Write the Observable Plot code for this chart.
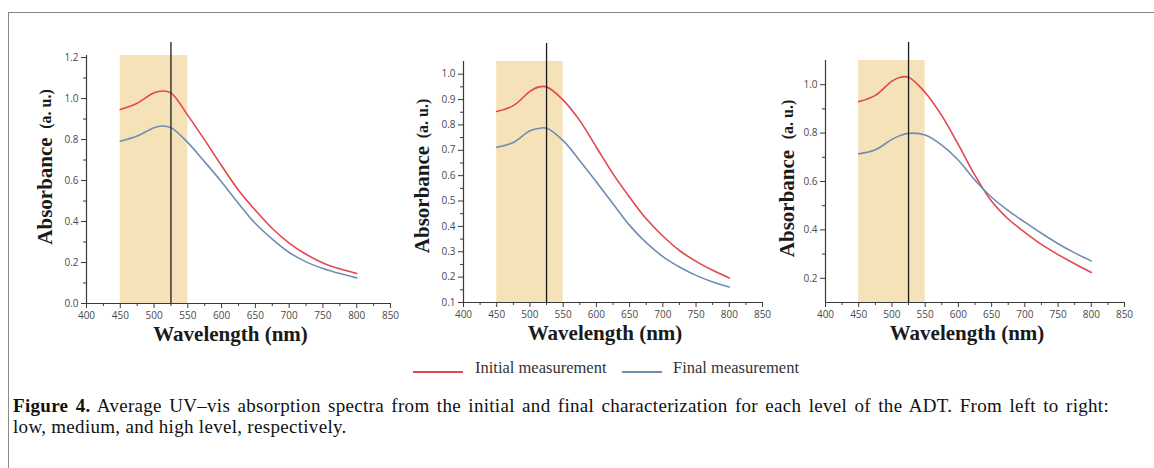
<!DOCTYPE html>
<html>
<head>
<meta charset="utf-8">
<script src="https://cdn.jsdelivr.net/npm/d3@7"></script>
<script src="https://cdn.jsdelivr.net/npm/@observablehq/plot@0.6"></script>
<style>
  html, body { margin: 0; padding: 0; background: #fff; }
  #page { position: relative; width: 1154px; height: 468px; overflow: hidden; background: #fff; }
  #frame { position: absolute; left: 8px; top: 12px; right: -10px; bottom: -10px;
           border-top: 1.5px solid #8a8a8a; border-left: 1.5px solid #8a8a8a; }
  .panel { position: absolute; top: 0; }
  .panel svg { overflow: visible; }
  .legend-line { position: absolute; height: 1.6px; }
  .legend-text { position: absolute; font-family: "Liberation Serif", serif; font-size: 16.5px; color: #333; line-height: 20px; white-space: nowrap; }
  #caption { position: absolute; left: 13px; top: 395px; width: 1096px; font-family: "Liberation Serif", serif;
             font-size: 19px; line-height: 21px; color: #111; letter-spacing: 0.3px; }
  #caption .first { text-align: justify; text-align-last: justify; white-space: nowrap; }
  #caption .second { white-space: nowrap; }
</style>
</head>
<body>
<div id="page">
  <div id="frame"></div>
  <div id="p1" class="panel"></div>
  <div id="p2" class="panel"></div>
  <div id="p3" class="panel"></div>
  <div id="legend"></div>
  <div id="caption"></div>
</div>
<script>
// Sampled wavelengths (nm) shared by every spectrum
const wavelengths = [450, 475, 500, 512.5, 525, 550, 575, 600, 625, 650, 675, 700, 725, 750, 775, 800];

// Low level
const lowInitial = [0.946, 0.977, 1.028, 1.037, 1.028, 0.918, 0.797, 0.672, 0.553, 0.455, 0.366, 0.295, 0.240, 0.198, 0.169, 0.146];
const lowFinal   = [0.792, 0.817, 0.858, 0.866, 0.858, 0.785, 0.691, 0.593, 0.488, 0.390, 0.314, 0.249, 0.203, 0.171, 0.146, 0.125];

// Medium level
const medInitial = [0.853, 0.876, 0.932, 0.949, 0.950, 0.898, 0.817, 0.712, 0.607, 0.515, 0.430, 0.362, 0.305, 0.262, 0.227, 0.197];
const medFinal   = [0.712, 0.731, 0.777, 0.786, 0.787, 0.738, 0.659, 0.575, 0.489, 0.404, 0.336, 0.281, 0.240, 0.207, 0.181, 0.161];

// High level
const highInitial = [0.930, 0.956, 1.015, 1.031, 1.031, 0.968, 0.872, 0.752, 0.625, 0.518, 0.445, 0.390, 0.340, 0.298, 0.260, 0.224];
const highFinal   = [0.714, 0.731, 0.774, 0.790, 0.799, 0.792, 0.750, 0.688, 0.605, 0.535, 0.480, 0.432, 0.386, 0.343, 0.305, 0.272];

// Highlighted band and reference wavelength (nm)
const bandRange = [450, 550];
const referenceWavelength = 525;

// Axis ticks
const xMajorTicks = [400, 450, 500, 550, 600, 650, 700, 750, 800, 850];
const xMinorTicks = [425, 475, 525, 575, 625, 675, 725, 775, 825];
const lowYTicks = [0.0, 0.2, 0.4, 0.6, 0.8, 1.0, 1.2];
const lowYMinor = [0.1, 0.3, 0.5, 0.7, 0.9, 1.1];
const medYTicks = [0.1, 0.2, 0.3, 0.4, 0.5, 0.6, 0.7, 0.8, 0.9, 1.0];
const medYMinor = [0.15, 0.25, 0.35, 0.45, 0.55, 0.65, 0.75, 0.85, 0.95];
const highYTicks = [0.2, 0.4, 0.6, 0.8, 1.0];
const highYMinor = [0.3, 0.5, 0.7, 0.9];

const seriesNames = ["Initial measurement", "Final measurement"];
const xTitle = "Wavelength (nm)";
const yTitle = "Absorbance";
const yUnit = "(a. u.)";
const captionBold = "Figure 4.";
const captionLine1 = " Average UV\u2013vis absorption spectra from the initial and final characterization for each level of the ADT. From left to right:";
const captionLine2 = "low, medium, and high level, respectively.";

const RED = "#e2474f";
const BLUE = "#6f8db3";
const AXIS = "#3a3a3a";
const TITLE_FONT = "'Liberation Serif', serif";

function panel(el, opts) {
  const rows = wavelengths.map((w, i) => ({w, initial: opts.initial[i], final: opts.final[i]}));
  const chart = Plot.plot({
    width: opts.width,
    height: 350,
    marginLeft: opts.ml, marginRight: opts.mr, marginTop: opts.mt, marginBottom: opts.mb,
    style: {background: "transparent", overflow: "visible", fontFamily: "'Open Sans', sans-serif"},
    x: {domain: [400, 850], label: null},
    y: {domain: opts.yDomain, label: null},
    marks: [
      Plot.rect([{from: bandRange[0], to: bandRange[1]}], {x1: "from", x2: "to", fill: "#f6e2b9"}),
      Plot.line(rows, {x: "w", y: "initial", stroke: RED, strokeWidth: 1.6, curve: "catmull-rom"}),
      Plot.line(rows, {x: "w", y: "final", stroke: BLUE, strokeWidth: 1.6, curve: "catmull-rom"}),
      Plot.ruleX([referenceWavelength], {stroke: "#1b1b1b", strokeWidth: 1.3, insetTop: opts.ruleExtend}),
      Plot.ruleX([400], {stroke: AXIS, strokeWidth: 1.2}),
      Plot.ruleY([opts.yDomain[0]], {stroke: AXIS, strokeWidth: 1.2}),
      Plot.axisX(xMajorTicks, {tickSize: 5, tickPadding: 3, fontSize: 10, stroke: AXIS, fill: "#4a4a4a", label: null, tickFormat: d => d}),
      Plot.axisX(xMinorTicks, {tickSize: 3, stroke: AXIS, fill: "none", label: null}),
      Plot.axisY(opts.yTicks, {tickSize: 5, tickPadding: 3, fontSize: 10, stroke: AXIS, fill: "#4a4a4a", label: null, tickFormat: d3.format(".1f")}),
      Plot.axisY(opts.yMinor, {tickSize: 3, stroke: AXIS, fill: "none", label: null}),
      Plot.text([yTitle], {frameAnchor: "left", rotate: -90, textAnchor: "middle", lineAnchor: "middle",
        dx: opts.ydx, dy: opts.yTitleDy, fontFamily: TITLE_FONT, fontWeight: "bold", fontSize: 21, fill: "#1a1a1a"}),
      Plot.text([yUnit], {frameAnchor: "left", rotate: -90, textAnchor: "middle", lineAnchor: "middle",
        dx: opts.ydx, dy: opts.yUnitDy, fontFamily: TITLE_FONT, fontWeight: "bold", fontSize: 16, fill: "#1a1a1a"}),
      Plot.text([xTitle], {frameAnchor: "bottom", textAnchor: "middle", lineAnchor: "middle", dx: -8, dy: 31,
        fontFamily: TITLE_FONT, fontWeight: "bold", fontSize: 21, fill: "#1a1a1a"})
    ]
  });
  el.style.left = opts.left + "px";
  el.appendChild(chart);
}

panel(document.getElementById("p1"), {
  left: 0, width: 400, ml: 86, mr: 10, mt: 55, mb: 47,
  yDomain: [0, 1.21], yTicks: lowYTicks, yMinor: lowYMinor,
  initial: lowInitial, final: lowFinal, ruleExtend: -13,
  ydx: -41, yTitleDy: 11.5, yUnitDy: -70.5
});
panel(document.getElementById("p2"), {
  left: 390, width: 380, ml: 73, mr: 8, mt: 61, mb: 48,
  yDomain: [0.1, 1.05], yTicks: medYTicks, yMinor: medYMinor,
  initial: medInitial, final: medFinal, ruleExtend: -18,
  ydx: -41, yTitleDy: 17.5, yUnitDy: -63.5
});
panel(document.getElementById("p3"), {
  left: 760, width: 394, ml: 65, mr: 30, mt: 60, mb: 48,
  yDomain: [0.1, 1.1], yTicks: highYTicks, yMinor: highYMinor,
  initial: highInitial, final: highFinal, ruleExtend: -18,
  ydx: -38, yTitleDy: 22, yUnitDy: -62
});

// Legend below the panels
const legend = document.getElementById("legend");
const legendItems = [
  {name: seriesNames[0], color: RED, x1: 413, x2: 463, tx: 475},
  {name: seriesNames[1], color: BLUE, x1: 622, x2: 662, tx: 673}
];
for (const item of legendItems) {
  const line = document.createElement("div");
  line.className = "legend-line";
  line.style.left = item.x1 + "px";
  line.style.width = (item.x2 - item.x1) + "px";
  line.style.top = "371px";
  line.style.background = item.color;
  legend.appendChild(line);
  const label = document.createElement("div");
  label.className = "legend-text";
  label.style.left = item.tx + "px";
  label.style.top = "358px";
  label.textContent = item.name;
  legend.appendChild(label);
}

// Figure caption
const caption = document.getElementById("caption");
const l1 = document.createElement("div");
l1.className = "first";
const b = document.createElement("b");
b.textContent = captionBold;
l1.appendChild(b);
l1.appendChild(document.createTextNode(captionLine1));
const l2 = document.createElement("div");
l2.className = "second";
l2.textContent = captionLine2;
caption.appendChild(l1);
caption.appendChild(l2);
</script>
</body>
</html>
